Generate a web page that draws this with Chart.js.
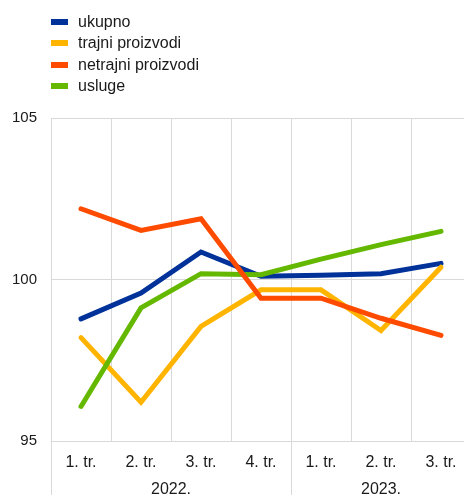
<!DOCTYPE html>
<html>
<head>
<meta charset="utf-8">
<script src="https://cdn.jsdelivr.net/npm/chart.js@4/dist/chart.umd.min.js"></script>
<style>
    html, body { margin: 0; padding: 0; overflow: hidden; background: #fff; }
    #wrap { position: absolute; left: 0; top: 0; width: 480px; height: 495px; }
    #legend { position: absolute; left: 51px; top: 11px; font-family: "Liberation Sans", Arial, sans-serif;
              font-size: 16px; color: #1a1a1a; }
    .row { height: 21.5px; display: flex; align-items: center; }
    .box { width: 17px; height: 6px; margin-right: 10px; }
</style>
</head>
<body>
<div id="wrap"><canvas id="myChart"></canvas></div>
<div id="legend"></div>
<script>
// quarters on the x axis and the years they belong to
const quarters = ['1. tr.', '2. tr.', '3. tr.', '4. tr.', '1. tr.', '2. tr.', '3. tr.'];
const years = ['2022.', '2023.'];
const yearStart = [0, 4];     // index of first quarter of each year
const yearLength = [4, 3];    // number of quarters in each year

// series values (index)
const ukupno    = [98.78, 99.58, 100.85, 100.10, 100.13, 100.18, 100.50];
const trajni    = [98.20, 96.20, 98.55, 99.68, 99.68, 98.42, 100.38];
const netrajni  = [102.19, 101.52, 101.88, 99.42, 99.42, 98.80, 98.27];
const usluge    = [96.07, 99.12, 100.18, 100.15, 100.63, 101.08, 101.49];

const seriesNames = ['ukupno', 'trajni proizvodi', 'netrajni proizvodi', 'usluge'];
const seriesColors = ['#003299', '#ffb400', '#ff4b00', '#65b800'];
const drawOrder = [3, 2, 0, 1];   // lower = drawn on top

const yTicks = [95, 100, 105];

const gridColor = '#d9d9d9';
const textColor = '#1a1a1a';
const fontFamily = '"Liberation Sans", Arial, sans-serif';

// html legend, one entry per row
const legend = document.getElementById('legend');
seriesNames.forEach((name, i) => {
    const row = document.createElement('div');
    row.className = 'row';
    row.innerHTML = `<span class="box" style="background:${seriesColors[i]}"></span><span>${name}</span>`;
    legend.appendChild(row);
});

// lines between the year groups, running down through the axis labels
const yearSeparators = {
    id: 'yearSeparators',
    afterDraw(chart) {
        const yr = chart.scales.year;
        const ctx = chart.ctx;
        ctx.save();
        ctx.strokeStyle = gridColor;
        ctx.lineWidth = 1;
        yearStart.forEach(s => {
            const x = Math.round(yr.getPixelForValue(s - 0.5)) + 0.5;
            ctx.beginPath();
            ctx.moveTo(x, chart.chartArea.bottom);
            ctx.lineTo(x, chart.height);
            ctx.stroke();
        });
        ctx.restore();
    }
};

const allData = [ukupno, trajni, netrajni, usluge];

new Chart(document.getElementById('myChart'), {
    type: 'line',
    data: {
        labels: quarters,
        datasets: allData.map((d, i) => ({
            label: seriesNames[i],
            data: d,
            borderColor: seriesColors[i],
            backgroundColor: seriesColors[i],
            borderWidth: 5,
            borderCapStyle: 'round',
            pointRadius: 0,
            tension: 0,
            fill: false,
            order: drawOrder[i]
        }))
    },
    options: {
        responsive: true,
        maintainAspectRatio: false,
        animation: false,
        devicePixelRatio: 1,
        layout: { padding: { top: 118, right: 9, left: 0, bottom: 0 } },
        scales: {
            x: {
                type: 'category',
                offset: true,
                grid: { color: gridColor, offset: true, drawTicks: false },
                border: { color: gridColor },
                ticks: {
                    color: textColor, padding: 12, maxRotation: 0, autoSkip: false,
                    font: { family: fontFamily, size: 16 }
                },
                afterFit: s => { s.height = 30; }
            },
            year: {
                type: 'linear',
                position: 'bottom',
                min: -0.5,
                max: 6.5,
                grid: { display: false },
                border: { display: false },
                afterBuildTicks: s => {
                    s.ticks = years.map((y, i) => ({ value: yearStart[i] + (yearLength[i] - 1) / 2 }));
                },
                ticks: {
                    color: textColor, padding: 1, maxRotation: 0, autoSkip: false,
                    font: { family: fontFamily, size: 16 },
                    callback: (v, i) => years[i]
                },
                afterFit: s => { s.height = 24; }
            },
            y: {
                min: 95,
                max: 105,
                afterBuildTicks: s => { s.ticks = yTicks.map(v => ({ value: v })); },
                grid: { color: gridColor, drawTicks: false },
                border: { display: false },
                ticks: {
                    color: textColor, padding: 14,
                    font: { family: fontFamily, size: 15 }
                },
                afterFit: s => { s.width = 51; }
            }
        },
        plugins: {
            legend: { display: false },
            tooltip: { enabled: false }
        }
    },
    plugins: [yearSeparators]
});
</script>
</body>
</html>
